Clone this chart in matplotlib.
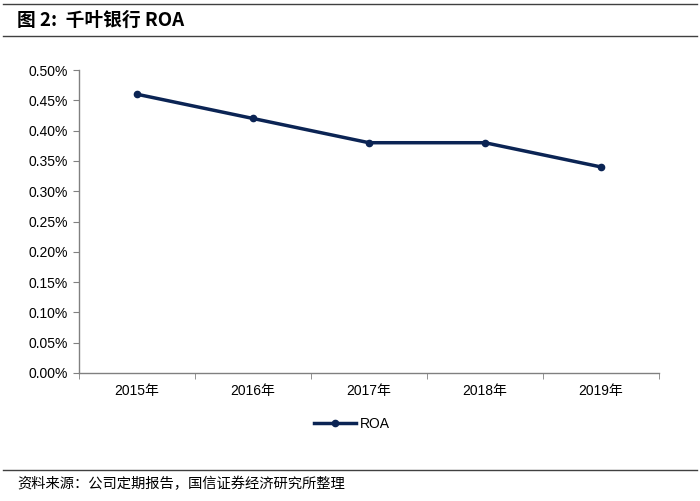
import matplotlib
matplotlib.use("Agg")
import matplotlib.pyplot as plt
from matplotlib.ticker import FuncFormatter
from matplotlib.lines import Line2D

plt.rcParams['font.family'] = ['Liberation Sans', 'Noto Sans CJK SC', 'DejaVu Sans']

categories = ['2015年', '2016年', '2017年', '2018年', '2019年']
roa = [0.46, 0.42, 0.38, 0.38, 0.34]
yticks = [0.00, 0.05, 0.10, 0.15, 0.20, 0.25, 0.30, 0.35, 0.40, 0.45, 0.50]

W, H = 700, 501
fig = plt.figure(figsize=(W/100, H/100), dpi=100)

def fx(x): return x / W
def fy(y): return 1 - y / H

ax = fig.add_axes([fx(79), fy(373), fx(659) - fx(79), fy(70) - fy(373)])
color = '#0b2454'
x = list(range(len(categories)))
ax.plot(x, roa, color=color, lw=2.5, marker='o', ms=4.5, label='ROA')
ax.set_xlim(-0.5, len(categories) - 0.5)
ax.set_ylim(0, 0.5)
ax.set_yticks(yticks)
ax.yaxis.set_major_formatter(FuncFormatter(lambda v, p: f'{v:.2f}%'))
ax.set_xticks(x)
ax.set_xticklabels(categories, fontsize=10, family=['Liberation Sans', 'Noto Sans CJK SC'])
ax.set_xticks([i - 0.5 for i in range(len(categories) + 1)], minor=True)
ax.tick_params(axis='x', which='major', length=0, pad=8)
ax.tick_params(axis='x', which='minor', length=4, color='#808080', direction='out')
ax.tick_params(axis='y', length=4, color='#808080', labelsize=10, pad=4)
for s in ['top', 'right']:
    ax.spines[s].set_visible(False)
for s in ['left', 'bottom']:
    ax.spines[s].set_color('#808080')
    ax.spines[s].set_linewidth(1)

leg = fig.legend(handles=[Line2D([0], [0], color=color, lw=2.5, marker='o', ms=4.5)],
                 labels=['ROA'], loc='center', bbox_to_anchor=(fx(352), fy(424)),
                 frameon=False, fontsize=10, handlelength=3, handletextpad=0.3)

# header lines and title
fig.add_artist(Line2D([fx(3), fx(697)], [fy(4), fy(4)], color='#404040', lw=1))
fig.add_artist(Line2D([fx(3), fx(697)], [fy(36), fy(36)], color='#404040', lw=1))
fig.text(fx(17), fy(20), '图 2:  千叶银行 ROA', fontsize=13.5, fontweight='bold',
         va='center', ha='left', family=['Noto Sans CJK SC', 'Liberation Sans'])
fig.add_artist(Line2D([fx(3), fx(697)], [fy(470), fy(470)], color='#404040', lw=1))
fig.text(fx(17), fy(484), '资料来源：公司定期报告，国信证券经济研究所整理', fontsize=10.3,
         va='center', ha='left', family=['Noto Sans CJK SC'])

fig.savefig('out.png', dpi=100)
